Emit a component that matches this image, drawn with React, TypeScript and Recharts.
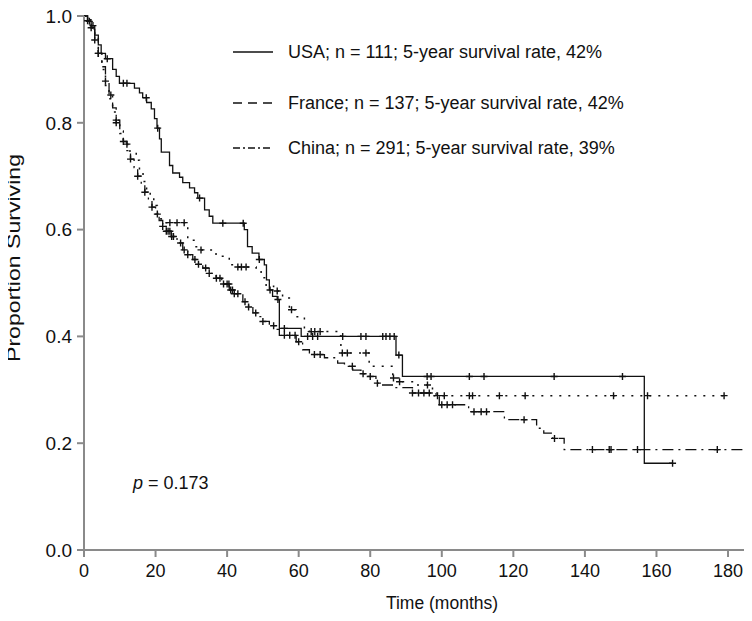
import React from 'react';
import { ComposedChart, Line, Scatter, XAxis, YAxis, Legend } from 'recharts';

// Kaplan-Meier steps: [time (months), proportion surviving]
const usaSteps: [number, number][] = [
    [0, 1], [1, 0.991], [2, 0.982], [3, 0.964], [4, 0.946], [4.8, 0.93], [6, 0.92], [8, 0.9],
    [9, 0.887], [9.9, 0.874], [14.1, 0.865], [15.5, 0.856], [16.4, 0.847], [17.5, 0.838],
    [18.8, 0.826], [19.7, 0.808], [20.4, 0.79], [21.1, 0.77], [21.6, 0.745], [23.9, 0.72],
    [24.8, 0.706], [26.7, 0.698], [27.6, 0.688], [29.5, 0.678], [30.9, 0.669], [31.8, 0.659],
    [33.7, 0.637], [35, 0.625], [36, 0.612], [44.8, 0.6], [45.7, 0.568], [47, 0.556],
    [48.9, 0.544], [50.4, 0.534], [51, 0.506], [51.8, 0.487], [52.7, 0.475], [54, 0.469],
    [54.6, 0.415], [60.7, 0.4], [87.2, 0.365], [89, 0.325], [156.6, 0.1625], [164.5, 0.1625],
];
const franceSteps: [number, number][] = [
    [0, 1], [1, 0.993], [2, 0.978], [3, 0.96], [4, 0.93], [5, 0.9], [6, 0.87], [7, 0.845],
    [8, 0.82], [9, 0.8], [10, 0.78], [11, 0.76], [12.2, 0.747], [14.6, 0.73], [15.5, 0.71],
    [16.5, 0.69], [17.5, 0.675], [18.5, 0.66], [19.5, 0.645], [20.5, 0.63], [21.5, 0.62],
    [22.5, 0.613], [29, 0.58], [31, 0.568], [32.7, 0.562], [36.9, 0.55], [40.6, 0.534],
    [42, 0.53], [48.1, 0.528], [49.5, 0.51], [50.9, 0.494], [53, 0.485], [55.5, 0.472],
    [57.4, 0.45], [59.3, 0.437], [61.6, 0.416], [63, 0.409], [71.8, 0.369], [79.7, 0.344],
    [86.3, 0.322], [88, 0.315], [93, 0.309], [97.4, 0.289], [178.9, 0.289],
];
const chinaSteps: [number, number][] = [
    [0, 1], [1, 0.99], [2, 0.975], [3, 0.955], [4, 0.93], [5, 0.905], [6, 0.878], [7, 0.852],
    [8, 0.828], [9, 0.805], [10, 0.785], [11, 0.765], [12, 0.748], [13, 0.732], [14, 0.716],
    [15, 0.7], [16, 0.685], [17, 0.67], [18, 0.656], [19, 0.642], [20, 0.629], [21, 0.617],
    [22, 0.606], [23, 0.597], [24.4, 0.587], [26, 0.575], [27.6, 0.562], [29, 0.553],
    [30.4, 0.544], [32, 0.535], [33.2, 0.528], [35, 0.518], [36.9, 0.509], [38.5, 0.498],
    [40.6, 0.487], [42, 0.48], [44.4, 0.465], [46, 0.455], [47.2, 0.444], [48.5, 0.437],
    [49.9, 0.428], [51.8, 0.42], [53.7, 0.413], [54.6, 0.402], [59.3, 0.39], [61.1, 0.375],
    [63, 0.366], [67.2, 0.36], [70.9, 0.35], [72.8, 0.344], [75.1, 0.337], [77.4, 0.33],
    [78.8, 0.325], [81.6, 0.3125], [82.5, 0.309], [87, 0.304], [91.8, 0.294], [98.4, 0.287],
    [99.3, 0.272], [107.5, 0.259], [117.5, 0.244], [126.5, 0.228], [128.5, 0.219],
    [131, 0.209], [134.2, 0.188], [186.5, 0.188],
];

// censored observations (months)
const usaCensored = [1, 2.5, 6.5, 11, 12, 17.4, 20.6, 32.3, 38.8, 44.5, 49, 52, 54.2, 56, 62.5, 63.9, 65.3,
    72.3, 77.4, 78.8, 83.5, 84.4, 85.5, 86.7, 88, 95.9, 97, 107.7, 111.8, 131.4, 150.5, 164.5];
const franceCensored = [2, 4, 9, 12, 24, 26, 28, 32.7, 43, 44, 45.3, 54, 58, 63.5, 64.5, 66, 72.2, 73.6,
    78.8, 86.5, 88.2, 96, 98.8, 100.7, 107.7, 108.6, 116.1, 123.3, 148, 157.5, 178.9];
const chinaCensored = [1.5, 3, 4, 6, 7.5, 9, 11, 13, 15, 17, 19, 20.5, 22, 23, 23.5, 24, 24.5, 25, 27,
    28, 29, 31, 32, 34, 35, 37, 38, 39, 40, 40.5, 41, 41.5, 42, 43, 45, 46, 48, 50, 53, 56, 57.5, 59,
    60, 64.4, 66, 75, 78, 80, 82, 91.8, 93.5, 95, 96.5, 100, 101.5, 103, 109, 111, 112.5, 123,
    131.5, 142.1, 146.8, 147.3, 154.7, 177];

const xTicks = [0, 20, 40, 60, 80, 100, 120, 140, 160, 180];
const yTicks = [0, 0.2, 0.4, 0.6, 0.8, 1.0];

const legendLabels = [
    'USA; n = 111; 5-year survival rate, 42%',
    'France; n = 137; 5-year survival rate, 42%',
    'China; n = 291; 5-year survival rate, 39%',
];
const legendDash = ['', '9 6', '7 3 2 3'];

const FONT = '"Liberation Sans", Arial, sans-serif';
const INK = '#111';
const AXIS = '#8a8a8a';

const survivalAt = (steps: [number, number][], t: number) => {
    let s = 1;
    for (const [tt, ss] of steps) {
        if (tt <= t) s = ss;
        else break;
    }
    return s;
};

const toRows = (steps: [number, number][]) => steps.map(([t, s]) => ({ t, s }));
const toCensor = (steps: [number, number][], times: number[]) =>
    times.map((t) => ({ t, s: survivalAt(steps, t) }));

const PlusMark = (props: any) => {
    const { cx, cy } = props;
    if (cx == null || cy == null) return null;
    return (
        <path
            d={`M${cx - 3.5},${cy}H${cx + 3.5}M${cx},${cy - 3.5}V${cy + 3.5}`}
            stroke={INK}
            strokeWidth={1.4}
            fill="none"
        />
    );
};

const KmLegend = () => (
    <div style={{ fontFamily: FONT, fontSize: 18, color: INK }}>
        {legendLabels.map((label, i) => (
            <div key={label} style={{ display: 'flex', alignItems: 'center', height: 24, marginBottom: i === 0 ? 27 : 21 }}>
                <svg width={40} height={10} style={{ marginRight: 15 }}>
                    <line x1={0} y1={5} x2={40} y2={5} stroke={INK} strokeWidth={1.4} strokeDasharray={legendDash[i] || undefined} />
                </svg>
                <span>{label}</span>
            </div>
        ))}
    </div>
);

const YLabel = (props: any) => {
    const { viewBox } = props;
    const x = viewBox.x + 13;
    const y = viewBox.y + viewBox.height / 2 - 25;
    return (
        <text x={x} y={y} transform={`rotate(-90, ${x}, ${y})`} textAnchor="middle" dominantBaseline="central"
            fontFamily={FONT} fontSize={19} fill={INK} textLength={208} lengthAdjust="spacingAndGlyphs">
            Proportion Surviving
        </text>
    );
};

const XLabel = (props: any) => {
    const { viewBox } = props;
    return (
        <text x={viewBox.x + viewBox.width / 2 + 24} y={viewBox.y + 53} textAnchor="middle" dominantBaseline="central"
            fontFamily={FONT} fontSize={17.5} fill={INK}>
            Time (months)
        </text>
    );
};

export default function App() {
    const xTickStyle = { fontFamily: FONT, fontSize: 18, fill: INK };
    const yTickStyle = { fontFamily: FONT, fontSize: 19, fill: INK };
    return (
        <div style={{ position: 'relative', width: 752, height: 621, margin: -8, background: '#fff' }}>
            <ComposedChart width={752} height={621} margin={{ top: 16, right: 0, bottom: 0, left: 0 }}>
                <XAxis
                    dataKey="t"
                    type="number"
                    domain={[0, 186.7]}
                    ticks={xTicks}
                    height={71}
                    tick={xTickStyle}
                    tickSize={7}
                    tickMargin={7}
                    stroke={AXIS}
                    strokeWidth={2}
                    label={<XLabel />}
                />
                <YAxis
                    dataKey="s"
                    type="number"
                    domain={[0, 1]}
                    ticks={yTicks}
                    width={84}
                    tick={yTickStyle}
                    tickFormatter={(v: number) => v.toFixed(1)}
                    tickSize={7}
                    tickMargin={5}
                    stroke={AXIS}
                    strokeWidth={2}
                    label={<YLabel />}
                />
                <Legend
                    layout="vertical"
                    align="center"
                    verticalAlign="middle"
                    content={<KmLegend />}
                    wrapperStyle={{ position: 'absolute', top: 40, left: 233, width: 420 }}
                />
                <Line data={toRows(usaSteps)} dataKey="s" type="stepAfter" stroke={INK} strokeWidth={1.3}
                    dot={false} activeDot={false} isAnimationActive={false} legendType="none" />
                <Line data={toRows(franceSteps)} dataKey="s" type="stepAfter" stroke={INK} strokeWidth={1.5}
                    strokeDasharray="2 7" dot={false} activeDot={false} isAnimationActive={false} legendType="none" />
                <Line data={toRows(chinaSteps)} dataKey="s" type="stepAfter" stroke={INK} strokeWidth={1.3}
                    strokeDasharray="11 5 2 5" dot={false} activeDot={false} isAnimationActive={false} legendType="none" />
                <Scatter data={toCensor(usaSteps, usaCensored)} dataKey="s" shape={<PlusMark />} isAnimationActive={false} legendType="none" />
                <Scatter data={toCensor(franceSteps, franceCensored)} dataKey="s" shape={<PlusMark />} isAnimationActive={false} legendType="none" />
                <Scatter data={toCensor(chinaSteps, chinaCensored)} dataKey="s" shape={<PlusMark />} isAnimationActive={false} legendType="none" />
            </ComposedChart>
            <div style={{ position: 'absolute', left: 133, top: 474, fontFamily: FONT, fontSize: 18, color: INK, lineHeight: 1 }}>
                <i>p</i> = 0.173
            </div>
        </div>
    );
}
